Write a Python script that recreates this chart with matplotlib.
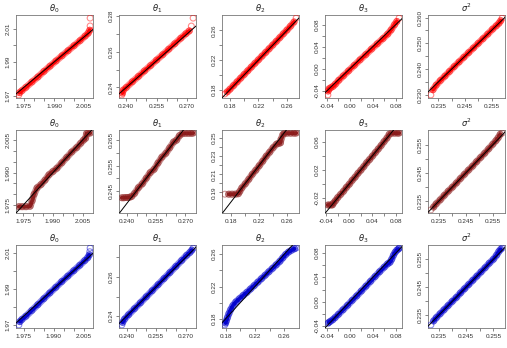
import matplotlib
matplotlib.use('Agg')
import matplotlib.pyplot as plt

plt.rcParams['font.family'] = ['Liberation Sans', 'DejaVu Sans']

# ---- data: sample quantiles (y) against theoretical quantiles (x) ----
# row 1 (red)
r1_th0_x = [1.9725, 1.9728, 1.9740, 1.9760, 1.9790, 1.9820, 1.9850, 1.9880, 1.9910, 1.9940, 1.9970, 2.0000, 2.0030, 2.0055, 2.0070, 2.0078, 2.0080, 2.0080]
r1_th0_y = [1.9705, 1.9718, 1.9730, 1.9750, 1.9782, 1.9812, 1.9845, 1.9876, 1.9907, 1.9938, 1.9968, 1.9998, 2.0028, 2.0055, 2.0072, 2.0090, 2.0115, 2.0162]
r1_th1_x = [0.2378, 0.2381, 0.2385, 0.2400, 0.2430, 0.2460, 0.2490, 0.2520, 0.2550, 0.2580, 0.2610, 0.2640, 0.2670, 0.2695, 0.2712, 0.2722, 0.2731]
r1_th1_y = [0.2358, 0.2368, 0.2385, 0.2400, 0.2432, 0.2462, 0.2493, 0.2523, 0.2554, 0.2584, 0.2615, 0.2646, 0.2677, 0.2702, 0.2718, 0.2745, 0.2790]
r1_th2_x = [0.1728, 0.1760, 0.1800, 0.1850, 0.1900, 0.1950, 0.2000, 0.2050, 0.2100, 0.2150, 0.2200, 0.2250, 0.2300, 0.2350, 0.2400, 0.2450, 0.2500, 0.2550, 0.2600, 0.2650, 0.2700, 0.2729]
r1_th2_y = [0.1742, 0.1768, 0.1805, 0.1855, 0.1905, 0.1955, 0.2005, 0.2055, 0.2105, 0.2155, 0.2203, 0.2253, 0.2302, 0.2352, 0.2402, 0.2452, 0.2503, 0.2555, 0.2605, 0.2658, 0.2715, 0.2767]
r1_th3_x = [-0.0380, -0.0375, -0.0360, -0.0330, -0.0290, -0.0250, -0.0190, -0.0110, -0.0020, 0.0080, 0.0180, 0.0280, 0.0380, 0.0480, 0.0580, 0.0660, 0.0720, 0.0780, 0.0820, 0.0860]
r1_th3_y = [-0.0470, -0.0400, -0.0360, -0.0340, -0.0315, -0.0275, -0.0205, -0.0125, -0.0035, 0.0065, 0.0165, 0.0260, 0.0360, 0.0455, 0.0550, 0.0630, 0.0705, 0.0800, 0.0860, 0.0920]
r1_s2_x = [0.2322, 0.2330, 0.2342, 0.2358, 0.2375, 0.2392, 0.2410, 0.2428, 0.2446, 0.2464, 0.2482, 0.2500, 0.2518, 0.2536, 0.2554, 0.2568, 0.2578, 0.2585, 0.2590]
r1_s2_y = [0.2300, 0.2320, 0.2338, 0.2356, 0.2373, 0.2391, 0.2410, 0.2428, 0.2446, 0.2464, 0.2482, 0.2500, 0.2518, 0.2536, 0.2555, 0.2568, 0.2578, 0.2588, 0.2598]

# row 2 (dark red)
r2_th0_x = [1.9728, 1.9745, 1.9765, 1.9785, 1.9795, 1.9805, 1.9820, 1.9840, 1.9860, 1.9880, 1.9900, 1.9920, 1.9945, 1.9970, 1.9995, 2.0020, 2.0040, 2.0055, 2.0065, 2.0070, 2.0078, 2.0088]
r2_th0_y = [1.9743, 1.9743, 1.9743, 1.9745, 1.9770, 1.9800, 1.9830, 1.9845, 1.9865, 1.9890, 1.9905, 1.9920, 1.9945, 1.9970, 1.9995, 2.0015, 2.0035, 2.0050, 2.0058, 2.0080, 2.0082, 2.0082]
r2_th1_x = [0.2375, 0.2385, 0.2395, 0.2405, 0.2415, 0.2425, 0.2440, 0.2460, 0.2480, 0.2500, 0.2520, 0.2540, 0.2560, 0.2580, 0.2600, 0.2620, 0.2640, 0.2655, 0.2670, 0.2685, 0.2700, 0.2715, 0.2730, 0.2740]
r2_th1_y = [0.2423, 0.2423, 0.2424, 0.2424, 0.2425, 0.2428, 0.2440, 0.2463, 0.2478, 0.2500, 0.2522, 0.2535, 0.2560, 0.2583, 0.2598, 0.2620, 0.2643, 0.2650, 0.2668, 0.2676, 0.2677, 0.2677, 0.2677, 0.2678]
r2_th2_x = [0.1706, 0.1760, 0.1810, 0.1860, 0.1900, 0.1920, 0.1950, 0.2000, 0.2050, 0.2100, 0.2150, 0.2200, 0.2250, 0.2300, 0.2350, 0.2400, 0.2450, 0.2480, 0.2505, 0.2512, 0.2540, 0.2560, 0.2600, 0.2650, 0.2700, 0.2730]
r2_th2_y = [0.1880, 0.1880, 0.1880, 0.1881, 0.1885, 0.1910, 0.1950, 0.1995, 0.2045, 0.2100, 0.2145, 0.2195, 0.2245, 0.2300, 0.2345, 0.2395, 0.2435, 0.2442, 0.2448, 0.2485, 0.2540, 0.2553, 0.2555, 0.2555, 0.2555, 0.2556]
r2_th3_x = [-0.0370, -0.0340, -0.0310, -0.0290, -0.0270, -0.0240, -0.0200, -0.0150, -0.0100, -0.0050, 0.0000, 0.0050, 0.0100, 0.0150, 0.0200, 0.0250, 0.0300, 0.0350, 0.0400, 0.0450, 0.0500, 0.0550, 0.0600, 0.0650, 0.0690, 0.0730, 0.0780, 0.0830, 0.0860]
r2_th3_y = [-0.0300, -0.0300, -0.0300, -0.0298, -0.0270, -0.0240, -0.0195, -0.0150, -0.0105, -0.0050, -0.0005, 0.0050, 0.0095, 0.0150, 0.0195, 0.0245, 0.0300, 0.0345, 0.0395, 0.0445, 0.0495, 0.0545, 0.0600, 0.0650, 0.0705, 0.0720, 0.0720, 0.0720, 0.0721]
r2_s2_x = [0.2320, 0.2330, 0.2340, 0.2355, 0.2370, 0.2385, 0.2400, 0.2415, 0.2430, 0.2445, 0.2460, 0.2475, 0.2490, 0.2505, 0.2520, 0.2535, 0.2550, 0.2562, 0.2570, 0.2578, 0.2585]
r2_s2_y = [0.2318, 0.2328, 0.2340, 0.2354, 0.2370, 0.2385, 0.2399, 0.2414, 0.2430, 0.2445, 0.2460, 0.2474, 0.2490, 0.2505, 0.2520, 0.2536, 0.2552, 0.2565, 0.2575, 0.2588, 0.2592]

# row 3 (blue)
r3_th0_x = [1.9725, 1.9730, 1.9740, 1.9760, 1.9790, 1.9820, 1.9850, 1.9880, 1.9910, 1.9940, 1.9970, 2.0000, 2.0030, 2.0055, 2.0070, 2.0078, 2.0080, 2.0082]
r3_th0_y = [1.9700, 1.9718, 1.9730, 1.9748, 1.9780, 1.9812, 1.9845, 1.9877, 1.9908, 1.9940, 1.9970, 2.0000, 2.0030, 2.0056, 2.0072, 2.0088, 2.0105, 2.0125]
r3_th1_x = [0.2376, 0.2380, 0.2390, 0.2410, 0.2440, 0.2470, 0.2500, 0.2530, 0.2560, 0.2590, 0.2620, 0.2650, 0.2680, 0.2705, 0.2722, 0.2732, 0.2738]
r3_th1_y = [0.2355, 0.2368, 0.2385, 0.2407, 0.2438, 0.2468, 0.2499, 0.2530, 0.2561, 0.2592, 0.2623, 0.2654, 0.2685, 0.2711, 0.2726, 0.2738, 0.2748]
r3_th2_x = [0.1790, 0.1800, 0.1810, 0.1825, 0.1845, 0.1870, 0.1900, 0.1940, 0.1990, 0.2040, 0.2090, 0.2140, 0.2190, 0.2240, 0.2290, 0.2340, 0.2390, 0.2440, 0.2490, 0.2540, 0.2580, 0.2620, 0.2660, 0.2700, 0.2740, 0.2762]
r3_th2_y = [0.1725, 0.1748, 0.1775, 0.1815, 0.1865, 0.1915, 0.1965, 0.2010, 0.2050, 0.2090, 0.2128, 0.2170, 0.2212, 0.2255, 0.2298, 0.2340, 0.2383, 0.2425, 0.2468, 0.2512, 0.2555, 0.2597, 0.2628, 0.2650, 0.2668, 0.2676]
r3_th3_x = [-0.0385, -0.0370, -0.0340, -0.0300, -0.0260, -0.0200, -0.0120, -0.0040, 0.0040, 0.0120, 0.0200, 0.0280, 0.0360, 0.0440, 0.0520, 0.0600, 0.0660, 0.0700, 0.0730, 0.0760, 0.0790, 0.0820, 0.0850, 0.0860]
r3_th3_y = [-0.0360, -0.0345, -0.0325, -0.0300, -0.0265, -0.0210, -0.0135, -0.0060, 0.0020, 0.0095, 0.0175, 0.0255, 0.0335, 0.0415, 0.0495, 0.0570, 0.0625, 0.0650, 0.0700, 0.0765, 0.0815, 0.0850, 0.0870, 0.0885]
r3_s2_x = [0.2322, 0.2332, 0.2342, 0.2356, 0.2370, 0.2385, 0.2400, 0.2415, 0.2430, 0.2445, 0.2460, 0.2475, 0.2490, 0.2505, 0.2520, 0.2535, 0.2550, 0.2562, 0.2570, 0.2577, 0.2582]
r3_s2_y = [0.2316, 0.2330, 0.2342, 0.2356, 0.2370, 0.2385, 0.2400, 0.2414, 0.2430, 0.2445, 0.2460, 0.2475, 0.2490, 0.2505, 0.2520, 0.2536, 0.2550, 0.2565, 0.2578, 0.2586, 0.2590]

# ---- ticks and tick labels ----
th0_t = [1.975, 1.980, 1.985, 1.990, 1.995, 2.000, 2.005]
th0_l = ['1.975', '', '', '1.990', '', '', '2.005']
th0_t2 = [1.97, 1.98, 1.99, 2.00, 2.01]
th0_l2 = ['1.97', '', '1.99', '', '2.01']
th1_t = [0.240, 0.245, 0.250, 0.255, 0.260, 0.265, 0.270]
th1_l = ['0.240', '', '', '0.255', '', '', '0.270']
th1_t2 = [0.24, 0.25, 0.26, 0.27, 0.28]
th1_l2 = ['0.24', '', '0.26', '', '0.28']
th1_t3 = [0.245, 0.250, 0.255, 0.260, 0.265]
th1_l3 = ['0.245', '', '0.255', '', '0.265']
th1_t4 = [0.24, 0.25, 0.26, 0.27]
th1_l4 = ['0.24', '', '0.26', '']
th2_t = [0.18, 0.20, 0.22, 0.24, 0.26]
th2_l = ['0.18', '', '0.22', '', '0.26']
th2_t2 = [0.19, 0.20, 0.21, 0.22, 0.23, 0.24, 0.25]
th2_l2 = ['0.19', '', '0.21', '', '0.23', '', '0.25']
th3_t = [-0.04, -0.02, 0.00, 0.02, 0.04, 0.06, 0.08]
th3_l = ['-0.04', '', '0.00', '', '0.04', '', '0.08']
th3_t2 = [-0.02, 0.00, 0.02, 0.04, 0.06]
th3_l2 = ['-0.02', '', '0.02', '', '0.06']
s2_t = [0.235, 0.240, 0.245, 0.250, 0.255]
s2_l = ['0.235', '', '0.245', '', '0.255']
s2_t2 = [0.230, 0.235, 0.240, 0.245, 0.250, 0.255, 0.260]
s2_l2 = ['0.230', '', '0.240', '', '0.250', '', '0.260']

titles = [r'$\theta_0$', r'$\theta_1$', r'$\theta_2$', r'$\theta_3$', r'$\sigma^2$']
row_colors = ['#ff0000', '#8b1a1a', '#0000cd']

panels = [
    # (row, col, x, y, xticks, xlabels, yticks, ylabels, band trim)
    (0, 0, r1_th0_x, r1_th0_y, th0_t, th0_l, th0_t2, th0_l2, (1, 2)),
    (0, 1, r1_th1_x, r1_th1_y, th1_t, th1_l, th1_t2, th1_l2, (1, 2)),
    (0, 2, r1_th2_x, r1_th2_y, th2_t, th2_l, th2_t, th2_l, (1, 1)),
    (0, 3, r1_th3_x, r1_th3_y, th3_t, th3_l, th3_t, th3_l, (1, 1)),
    (0, 4, r1_s2_x, r1_s2_y, s2_t, s2_l, s2_t2, s2_l2, (1, 1)),
    (1, 0, r2_th0_x, r2_th0_y, th0_t, th0_l, th0_t, th0_l, (0, 0)),
    (1, 1, r2_th1_x, r2_th1_y, th1_t, th1_l, th1_t3, th1_l3, (0, 0)),
    (1, 2, r2_th2_x, r2_th2_y, th2_t, th2_l, th2_t2, th2_l2, (1, 0)),
    (1, 3, r2_th3_x, r2_th3_y, th3_t, th3_l, th3_t2, th3_l2, (0, 0)),
    (1, 4, r2_s2_x, r2_s2_y, s2_t, s2_l, s2_t, s2_l, (1, 1)),
    (2, 0, r3_th0_x, r3_th0_y, th0_t, th0_l, th0_t2, th0_l2, (1, 2)),
    (2, 1, r3_th1_x, r3_th1_y, th1_t, th1_l, th1_t4, th1_l4, (1, 1)),
    (2, 2, r3_th2_x, r3_th2_y, th2_t, th2_l, th2_t, th2_l, (1, 1)),
    (2, 3, r3_th3_x, r3_th3_y, th3_t, th3_l, th3_t, th3_l, (1, 1)),
    (2, 4, r3_s2_x, r3_s2_y, s2_t, s2_l, s2_t, s2_l, (1, 1)),
]

W, H = 507, 348
fig = plt.figure(figsize=(W / 100, H / 100), dpi=100)

box_left = [16, 119, 222, 325, 428]
box_top = [15, 130, 245]
box_w, box_h = 77, 83

for row, col, x, y, xt, xl, yt, yl, trim in panels:
    ax = fig.add_axes([box_left[col] / W, 1 - (box_top[row] + box_h) / H, box_w / W, box_h / H])
    c = row_colors[row]
    n = len(x)
    bx, by = x[trim[0]:n - trim[1]], y[trim[0]:n - trim[1]]
    # dense band of overlapping circles: soft outer edge + solid core
    ax.plot(bx, by, color=c, lw=5.0, alpha=0.45, solid_capstyle='round', zorder=2)
    ax.plot(bx, by, color=c, lw=2.8, alpha=0.95, solid_capstyle='round', zorder=2)
    ax.scatter(x, y, s=18, facecolors='none', edgecolors=c, alpha=0.45,
               linewidths=0.8, zorder=3)
    ax.axline((x[0], x[0]), slope=1, color='black', lw=0.7, zorder=4)
    ax.margins(0.04)

    ax.set_xticks(xt)
    ax.set_xticklabels(xl)
    ax.set_yticks(yt)
    ax.set_yticklabels(yl, rotation=90, va='center')
    ax.tick_params(direction='out', length=2.5, width=0.5, colors='#555555',
                   labelsize=4.6, labelcolor='#333333', pad=1.5)
    for s in ax.spines.values():
        s.set_color('#777777')
        s.set_linewidth(0.6)
    ax.set_title(titles[col], fontsize=6, pad=2, color='#222222')

fig.savefig('out.png', dpi=100)
